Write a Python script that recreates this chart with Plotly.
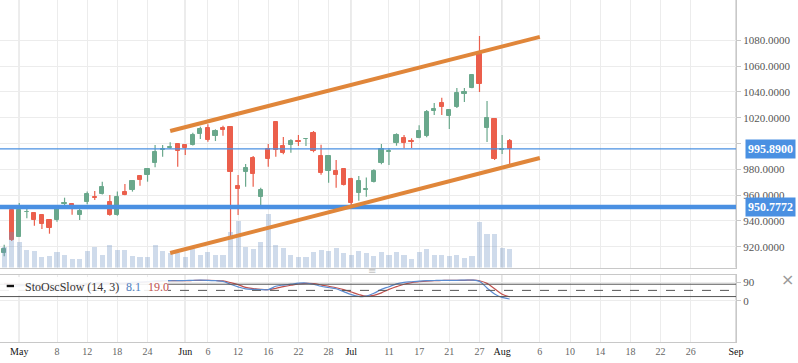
import plotly.graph_objects as go
from datetime import date

# ---------------- data (AMZN daily) ----------------
dates = ["2017-04-27", "2017-04-28",
         "2017-05-01", "2017-05-02", "2017-05-03", "2017-05-04", "2017-05-05",
         "2017-05-08", "2017-05-09", "2017-05-10", "2017-05-11", "2017-05-12",
         "2017-05-15", "2017-05-16", "2017-05-17", "2017-05-18", "2017-05-19",
         "2017-05-22", "2017-05-23", "2017-05-24", "2017-05-25", "2017-05-26",
         "2017-05-30", "2017-05-31", "2017-06-01", "2017-06-02",
         "2017-06-05", "2017-06-06", "2017-06-07", "2017-06-08", "2017-06-09",
         "2017-06-12", "2017-06-13", "2017-06-14", "2017-06-15", "2017-06-16",
         "2017-06-19", "2017-06-20", "2017-06-21", "2017-06-22", "2017-06-23",
         "2017-06-26", "2017-06-27", "2017-06-28", "2017-06-29", "2017-06-30",
         "2017-07-03", "2017-07-05", "2017-07-06", "2017-07-07",
         "2017-07-10", "2017-07-11", "2017-07-12", "2017-07-13", "2017-07-14",
         "2017-07-17", "2017-07-18", "2017-07-19", "2017-07-20", "2017-07-21",
         "2017-07-24", "2017-07-25", "2017-07-26", "2017-07-27", "2017-07-28",
         "2017-07-31", "2017-08-01", "2017-08-02"]

opens = [915.0, 948.5,
         927.8, 946.7, 945.9, 944.6, 940.6,
         940.7, 952.8, 953.1, 944.8, 954.9,
         958.8, 960.9, 954.6, 944.6, 962.7,
         964.0, 974.8, 975.8, 985.1, 995.0,
         996.3, 999.6, 998.8, 998.8,
         1007.4, 1012.0, 1006.0, 1012.0, 1013.0,
         967.1, 978.1, 988.8, 958.8, 995.7,
         1016.7, 998.1, 999.1, 1002.0, 1003.3,
         1008.4, 990.3, 978.9, 978.7, 980.2,
         972.5, 961.9, 964.2, 970.2,
         985.2, 993.3, 1000.6, 1004.3, 1001.7,
         1004.5, 1005.8, 1025.4, 1031.4, 1021.3,
         1028.3, 1038.4, 1043.0, 1069.4, 1012.0,
         1019.0, 995.3, 1002.0]

highs = [921.5, 949.2,
         953.9, 950.3, 946.2, 944.9, 940.8,
         950.0, 958.0, 953.9, 949.2, 962.7,
         963.2, 970.4, 960.1, 962.7, 968.6,
         971.2, 975.0, 980.6, 998.8, 998.8,
         1000.9, 1000.2, 999.5, 1008.4,
         1013.0, 1014.9, 1011.0, 1013.8, 1013.2,
         975.6, 984.1, 990.3, 965.7, 999.6,
         1017.0, 1005.0, 1003.2, 1006.6, 1004.3,
         1009.7, 999.1, 990.5, 987.2, 980.6,
         973.5, 974.8, 973.7, 980.0,
         999.6, 996.3, 1007.9, 1006.6, 1004.0,
         1014.1, 1026.0, 1031.4, 1035.5, 1026.2,
         1043.0, 1043.0, 1053.3, 1083.3, 1033.0,
         1019.2, 1006.6, 1003.5]

lows = [912.7, 924.4,
        927.8, 942.0, 936.3, 933.7, 930.1,
        939.4, 952.3, 944.8, 940.7, 952.9,
        956.2, 960.5, 944.0, 944.0, 959.8,
        962.7, 967.3, 970.4, 981.5, 989.8,
        996.0, 982.0, 991.1, 998.5,
        1003.5, 1001.4, 1001.9, 1006.0, 927.8,
        944.6, 966.5, 966.5, 952.3, 982.0,
        989.8, 991.6, 992.9, 998.1, 998.1,
        993.2, 975.8, 969.6, 965.7, 967.4,
        952.3, 955.7, 958.8, 969.8,
        983.9, 983.3, 998.3, 996.3, 996.5,
        1004.0, 1004.8, 1022.0, 1022.1, 1011.2,
        1027.5, 1032.2, 1042.8, 1039.9, 1001.2,
        987.2, 991.9, 983.3]

closes = [918.4, 925.0,
          948.2, 947.1, 941.0, 937.6, 934.2,
          949.0, 954.0, 949.2, 947.7, 960.9,
          957.9, 966.0, 944.6, 958.5, 960.1,
          970.9, 971.7, 980.2, 993.4, 995.7,
          997.0, 994.4, 996.7, 1006.6,
          1011.2, 1002.7, 1009.7, 1010.5, 978.1,
          964.7, 981.0, 976.6, 964.0, 988.2,
          995.2, 992.9, 1002.0, 1001.4, 1003.7,
          994.4, 976.9, 990.3, 975.6, 967.8,
          954.1, 970.9, 964.8, 978.7,
          995.7, 993.9, 1006.6, 1000.6, 1001.3,
          1009.7, 1024.4, 1027.0, 1028.3, 1026.0,
          1039.1, 1039.9, 1053.1, 1046.1, 1019.8,
          988.0, 995.7, 995.89]

volumes_m = [3.1, 5.4, 4.0, 2.7, 2.5, 1.6, 1.7, 2.4, 2.0, 1.3,
             1.3, 2.5, 3.2, 2.0, 3.4, 2.7, 2.7, 1.7, 1.6, 1.6,
             3.4, 2.5, 2.2, 2.2, 1.6, 2.8, 1.9, 2.4, 1.9, 1.9,
             5.4, 7.1, 3.1, 2.8, 3.9, 8.2, 3.4, 3.0, 2.0, 1.6,
             1.6, 2.4, 2.7, 2.5, 3.0, 2.2, 2.0, 2.5, 2.2, 1.7,
             2.4, 2.0, 2.4, 1.9, 1.3, 2.4, 2.8, 2.0, 1.9, 1.7,
             2.0, 1.4, 1.7, 7.0, 5.1, 5.1, 3.0, 2.8]

stoch_k = [80, 70, 72, 74, 68, 58, 50, 60, 72, 74, 76, 84, 86, 90, 82, 84, 86, 90, 90, 92,
           96, 97, 97, 97, 98, 99, 100, 99, 97, 94, 80, 67, 57, 55, 54, 54, 70, 76, 80, 85,
           86, 80, 70, 64, 58, 44, 30, 21, 22, 36, 55, 68, 82, 89, 92, 95, 97, 98, 99, 99,
           99, 100, 100, 94, 62, 33, 16, 8.1]
stoch_d = [84, 80, 76, 73, 72, 67, 58, 56, 60, 68, 74, 78, 82, 86, 86, 85, 84, 87, 89, 91,
           93, 95, 97, 97, 97, 98, 99, 99, 98, 96, 88, 78, 65, 59, 55, 54, 60, 68, 75, 81,
           84, 83, 77, 70, 63, 54, 42, 30, 22, 26, 38, 55, 68, 80, 88, 92, 95, 97, 98, 99,
           99, 99, 100, 97, 84, 58, 31, 19.0]

last_price = 995.89
support_level = 950.7772

# trend channel (x in bar-index units, y in price)
trend_x = [20, 69.0]
trend_upper = [1009.7, 1082.6]
trend_lower = [915.1, 988.8]

tick_dates = ["2017-05-01", "2017-05-08", "2017-05-12", "2017-05-18", "2017-05-24",
              "2017-06-01", "2017-06-06", "2017-06-12", "2017-06-16", "2017-06-22",
              "2017-06-28", "2017-07-03", "2017-07-11", "2017-07-17", "2017-07-21",
              "2017-07-27", "2017-08-01", "2017-08-06", "2017-08-10", "2017-08-14",
              "2017-08-18", "2017-08-22", "2017-08-26", "2017-09-01"]
tick_labels = ["May", "8", "12", "18", "24", "Jun", "6", "12", "16", "22", "28",
               "Jul", "11", "17", "21", "27", "Aug", "6", "10", "14", "18", "22", "26", "Sep"]
month_labels = {"May", "Jun", "Jul", "Aug", "Sep"}

price_ticks = [920, 940, 960, 980, 1000, 1020, 1040, 1060, 1080]
osc_levels = [80, 50, 20]

# ---------------- helpers ----------------
base = dates.index("2017-05-01")
x_idx = [k - base for k in range(len(dates))]
last_i = x_idx[-1]
last_d = date.fromisoformat(dates[-1])


def pos(d):
    if d in dates:
        return dates.index(d) - base
    return last_i + (date.fromisoformat(d) - last_d).days


tick_pos = [pos(d) for d in tick_dates]
tick_text = [("<span style='color:#111'>%s</span>" % t) if t in month_labels else t
             for t in tick_labels]
month_pos = [p for p, t in zip(tick_pos, tick_labels) if t in month_labels]

# price labels; the one hidden behind the last-price badge is left blank
price_text = ["" if abs(v - last_price) < 8 else "%.4f" % v for v in price_ticks]

UP = "#6aa88c"
DOWN = "#eb5f4c"

XR = [-2.557, 95.0]

fig = go.Figure()

# candle bodies
body_base = [min(o, c) for o, c in zip(opens, closes)]
body_h = [abs(c - o) for o, c in zip(opens, closes)]
cols = [UP if c >= o else DOWN for o, c in zip(opens, closes)]
fig.add_trace(go.Bar(x=x_idx, y=body_h, base=body_base, width=0.56,
                     marker=dict(color=cols, line=dict(color=cols, width=1)),
                     xaxis="x", yaxis="y", hoverinfo="skip"))

# wicks
for col, up in ((UP, True), (DOWN, False)):
    wx, wy = [], []
    for xi, o, h, l, c in zip(x_idx, opens, highs, lows, closes):
        if (c >= o) == up:
            wx += [xi, xi, None]
            wy += [l, h, None]
    fig.add_trace(go.Scatter(x=wx, y=wy, mode="lines", line=dict(color=col, width=1.2),
                             xaxis="x", yaxis="y", hoverinfo="skip"))

# volume (overlay axis)
fig.add_trace(go.Bar(x=x_idx, y=volumes_m, width=0.68,
                     marker=dict(color="rgba(110,146,194,0.33)", line=dict(width=0)),
                     xaxis="x", yaxis="y3", hoverinfo="skip"))

# stochastic
fig.add_trace(go.Scatter(x=x_idx, y=stoch_d, mode="lines",
                         line=dict(color="#c0504d", width=1.2, shape="spline"),
                         xaxis="x2", yaxis="y2"))
fig.add_trace(go.Scatter(x=x_idx, y=stoch_k, mode="lines",
                         line=dict(color="#5b8bd0", width=1.2, shape="spline"),
                         xaxis="x2", yaxis="y2"))

shapes = []
# month separator lines
for mp in month_pos:
    for yr in ("y domain", "y2 domain"):
        shapes.append(dict(type="line", xref="x", yref=yr, x0=mp, x1=mp, y0=0, y1=1,
                           line=dict(color="#c6c6c6", width=1.2), layer="below"))
# price lines
shapes.append(dict(type="line", xref="paper", yref="y", x0=0, x1=1,
                   y0=last_price, y1=last_price, line=dict(color="#4a90e2", width=1.3)))
shapes.append(dict(type="line", xref="paper", yref="y", x0=0, x1=1,
                   y0=support_level, y1=support_level, line=dict(color="#4a90e2", width=4.5)))
# trend channel
for ty in (trend_upper, trend_lower):
    shapes.append(dict(type="line", xref="x", yref="y", x0=trend_x[0], x1=trend_x[1],
                       y0=ty[0], y1=ty[1], line=dict(color="#e0863a", width=4)))
# oscillator levels
for lv in osc_levels:
    shapes.append(dict(type="line", xref="paper", yref="y2", x0=0, x1=1, y0=lv, y1=lv,
                       line=dict(color="#555555", width=1, dash="dash" if lv == 50 else "solid")))
# legend backdrop
H = 342.0
shapes.append(dict(type="rect", xref="paper", yref="paper", x0=0, x1=168 / 736,
                   y0=(H - 295.5) / H, y1=(H - 277) / H,
                   fillcolor="rgba(255,255,255,0.9)", line=dict(width=0)))
shapes.append(dict(type="rect", xref="paper", yref="paper", x0=6.7 / 736, x1=14 / 736,
                   y0=(H - 287.2) / H, y1=(H - 284.8) / H,
                   fillcolor="#111", line=dict(width=0)))

annotations = [
    dict(x=1, xref="paper", xshift=9, xanchor="left", y=last_price, yref="y",
         text="<b>%.4f</b>" % last_price, showarrow=False, bgcolor="#4a90e2",
         font=dict(color="white", size=12, family="Liberation Serif"), borderpad=2),
    dict(x=1, xref="paper", xshift=9, xanchor="left", y=support_level, yref="y",
         text="<b>%.4f</b>" % support_level, showarrow=False, bgcolor="#4a90e2",
         font=dict(color="white", size=12, family="Liberation Serif"), borderpad=2),
    dict(x=23 / 736, xref="paper", xanchor="left", y=(H - 286.5) / H, yref="paper",
         yanchor="middle", text="StoOscSlow (14, 3)", showarrow=False,
         font=dict(color="#333", size=12, family="Liberation Serif")),
    dict(x=124 / 736, xref="paper", xanchor="left", y=(H - 286.5) / H, yref="paper",
         yanchor="middle", text="%.1f" % stoch_k[-1], showarrow=False,
         font=dict(color="#4f7fc0", size=12, family="Liberation Serif")),
    dict(x=146 / 736, xref="paper", xanchor="left", y=(H - 286.5) / H, yref="paper",
         yanchor="middle", text="%.1f" % stoch_d[-1], showarrow=False,
         font=dict(color="#c0504d", size=12, family="Liberation Serif")),
    dict(x=787 / 736, xref="paper", xanchor="center", y=(H - 279) / H, yref="paper",
         yanchor="middle", text="×", showarrow=False,
         font=dict(color="#999", size=16, family="DejaVu Sans")),
    dict(x=372 / 736, xref="paper", xanchor="center", y=(H - 270.5) / H, yref="paper",
         yanchor="middle", text="≡", showarrow=False,
         font=dict(color="#c4c4c4", size=10, family="DejaVu Sans")),
]

axfont = dict(family="Liberation Serif", size=11, color="#555")
fig.update_layout(
    width=798, height=363, autosize=False,
    margin=dict(l=0, r=62, t=0, b=21, pad=0),
    paper_bgcolor="white", plot_bgcolor="white",
    showlegend=False, barmode="overlay", bargap=0,
    xaxis=dict(domain=[0, 1], anchor="y", range=XR, tickvals=tick_pos,
               showticklabels=False, showgrid=True, gridcolor="#ececec", gridwidth=1,
               zeroline=False, showline=True, linecolor="#c8c8c8", ticks=""),
    yaxis=dict(domain=[(H - 267.5) / H, 1], anchor="x", side="right",
               range=[903.9, 1111.2], tickvals=price_ticks, ticktext=price_text,
               showgrid=True, gridcolor="#ececec", zeroline=False, showline=True,
               linecolor="#c8c8c8", ticks="outside", ticklen=4, tickcolor="#c8c8c8",
               tickfont=axfont),
    yaxis3=dict(overlaying="y", anchor="x", range=[0, 41.15], visible=False),
    xaxis2=dict(domain=[0, 1], anchor="y2", range=XR, tickvals=tick_pos,
                ticktext=tick_text, showgrid=True, gridcolor="#ececec", zeroline=False,
                showline=True, mirror=True, linecolor="#c8c8c8", ticks="",
                tickfont=dict(family="Liberation Serif", size=10, color="#666")),
    yaxis2=dict(domain=[0, (H - 275) / H], anchor="x2", side="right",
                range=[-200.8, 124.8], tickvals=[90, 0], ticktext=["90", "0"],
                showgrid=True, gridcolor="#ececec", zeroline=False, showline=True,
                linecolor="#c8c8c8", ticks="outside", ticklen=4, tickcolor="#c8c8c8",
                tickfont=axfont),
    shapes=shapes, annotations=annotations,
)

fig.write_html("out.html", config={"displayModeBar": False},
               post_script="document.body.style.margin='0px';")
